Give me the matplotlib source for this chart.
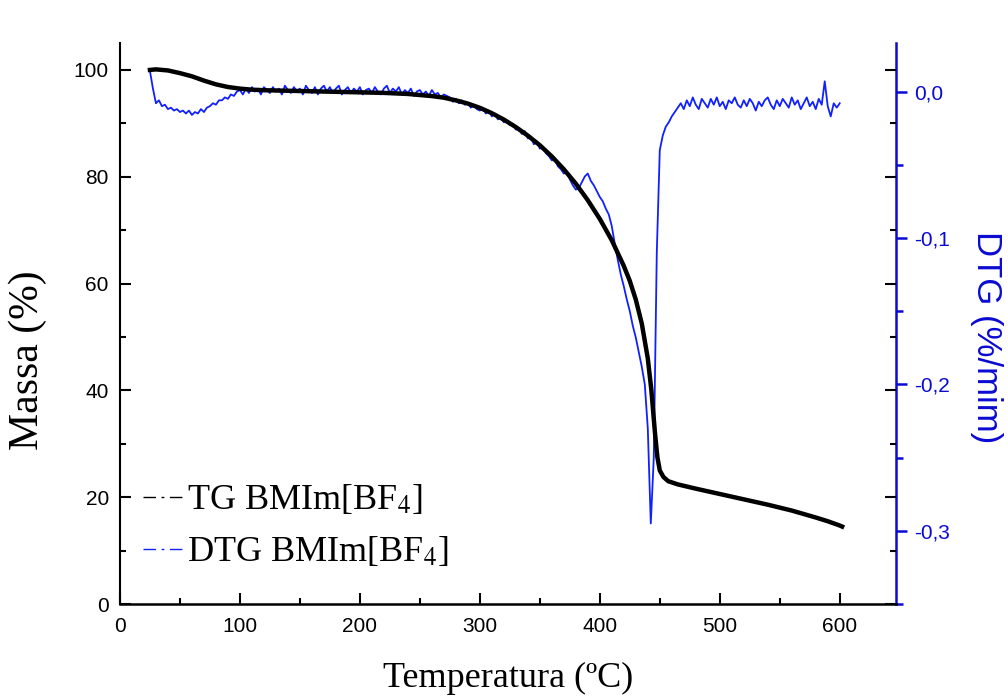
import numpy as np
import matplotlib
matplotlib.use("Agg")
import matplotlib.pyplot as plt
from matplotlib.lines import Line2D
from matplotlib.ticker import MultipleLocator, FuncFormatter

# TG curve (mass %)
tg_temp = [25, 30, 40, 50, 60, 70, 80, 90, 100, 110, 120, 140, 160, 180, 200,
           220, 240, 260, 270, 280, 290, 300, 310, 320, 330, 340, 350, 360,
           370, 380, 390, 400, 410, 420, 425, 430, 435, 440, 443, 446, 448,
           450, 453, 457, 465, 480, 500, 520, 540, 560, 580, 590, 600, 602]
tg_mass = [100.0, 100.1, 99.9, 99.4, 98.8, 98.0, 97.3, 96.8, 96.5, 96.3, 96.2,
           96.1, 96.0, 95.9, 95.8, 95.7, 95.5, 95.1, 94.8, 94.3, 93.7, 92.9,
           91.9, 90.7, 89.3, 87.7, 85.9, 83.8, 81.4, 78.7, 75.6, 72.1, 68.1,
           63.3, 60.5, 57.0, 52.5, 46.0, 40.0, 32.0, 27.5, 25.0, 23.8, 23.0,
           22.4, 21.6, 20.6, 19.6, 18.6, 17.5, 16.2, 15.5, 14.7, 14.5]

# DTG curve (%/min), one reading every 2.5 C from 25 to 600 C
dtg_temp = np.arange(25, 600.1, 2.5)
dtg_vals = [
    0.014, 0.002, -0.008, -0.006, -0.010, -0.009, -0.012, -0.011, -0.013, -0.012,
    -0.014, -0.013, -0.015, -0.013, -0.016, -0.014, -0.015, -0.012, -0.014, -0.011,
    -0.010, -0.008, -0.009, -0.006, -0.006, -0.004, -0.005, -0.002, -0.003, 0.000,
    0.001, -0.002, 0.002, -0.001, 0.003, 0.000, 0.002, -0.002, 0.003, 0.001,
    -0.001, 0.003, 0.000, 0.002, -0.002, 0.004, 0.001, -0.001, 0.003, 0.000,
    0.002, -0.002, 0.004, 0.001, -0.001, 0.003, -0.002, 0.002, 0.004, 0.000,
    0.003, -0.001, 0.002, 0.004, -0.002, 0.001, 0.003, -0.001, 0.002, 0.000,
    0.003, -0.002, 0.001, 0.002, -0.001, 0.003, 0.000, -0.002, 0.002, 0.004,
    -0.001, 0.002, 0.000, 0.003, -0.002, 0.001, -0.001, 0.002, -0.003, 0.000,
    0.001, -0.002, 0.000, -0.003, 0.001, -0.002, -0.001, -0.004, -0.002, -0.003,
    -0.004, -0.007, -0.005, -0.008, -0.006, -0.009, -0.008, -0.011, -0.009, -0.012,
    -0.013, -0.011, -0.015, -0.013, -0.017, -0.015, -0.019, -0.018, -0.021, -0.020,
    -0.023, -0.022, -0.026, -0.025, -0.029, -0.027, -0.032, -0.031, -0.036, -0.034,
    -0.039, -0.038, -0.042, -0.044, -0.047, -0.046, -0.051, -0.053, -0.056, -0.055,
    -0.060, -0.064, -0.067, -0.066, -0.062, -0.058, -0.056, -0.061, -0.064, -0.068,
    -0.072, -0.075, -0.080, -0.084, -0.092, -0.104, -0.115, -0.125, -0.133, -0.142,
    -0.150, -0.160, -0.168, -0.178, -0.188, -0.200, -0.230, -0.295, -0.250, -0.110,
    -0.040, -0.030, -0.024, -0.021, -0.017, -0.014, -0.011, -0.008, -0.012, -0.006,
    -0.010, -0.004, -0.009, -0.012, -0.005, -0.008, -0.011, -0.005, -0.009, -0.004,
    -0.010, -0.007, -0.012, -0.006, -0.008, -0.004, -0.009, -0.011, -0.006, -0.010,
    -0.005, -0.008, -0.013, -0.007, -0.010, -0.006, -0.004, -0.009, -0.012, -0.006,
    -0.010, -0.005, -0.008, -0.011, -0.004, -0.009, -0.006, -0.012, -0.008, -0.004,
    -0.010, -0.007, -0.012, -0.005, -0.009, 0.007, -0.010, -0.017, -0.008, -0.011,
    -0.008,
]

x_ticks = [0, 100, 200, 300, 400, 500, 600]
y_ticks = [0, 20, 40, 60, 80, 100]
dtg_ticks = [0.0, -0.1, -0.2, -0.3]
legend_labels = ['TG BMIm[BF$_4$]', 'DTG BMIm[BF$_4$]']

blue_ax = '#0a0ad2'
blue_line = '#1020ff'
serif = 'Liberation Serif'
sans = 'Liberation Sans'
plt.rcParams['mathtext.fontset'] = 'stix'

fig = plt.figure(figsize=(10.08, 6.97), dpi=100)
ax = fig.add_axes([0.119, 0.1334, 0.77, 0.8046])
ax2 = ax.twinx()

ax2.plot(dtg_temp, dtg_vals, color=blue_line, lw=1.3, zorder=3)
ax.plot(tg_temp, tg_mass, color='black', lw=3.2, zorder=2)
ax.set_zorder(ax2.get_zorder() + 1)
ax.patch.set_visible(False)

ax.set_xlim(0, 647)
ax.set_ylim(0, 105)
ax2.set_ylim(-0.35, 0.033)

ax.set_xticks(x_ticks)
ax.set_yticks(y_ticks)
ax.xaxis.set_minor_locator(MultipleLocator(50))
ax.yaxis.set_minor_locator(MultipleLocator(10))
ax2.set_yticks(dtg_ticks)
ax2.yaxis.set_minor_locator(MultipleLocator(0.05))
ax2.yaxis.set_major_formatter(FuncFormatter(lambda v, p: f'{v:.1f}'.replace('.', ',').replace('-0,0', '0,0')))

for s in ['top', 'right']:
    ax.spines[s].set_visible(False)
for s in ['top', 'left', 'bottom']:
    ax2.spines[s].set_visible(False)
ax.spines['left'].set_linewidth(1.5)
ax.spines['bottom'].set_linewidth(1.8)
ax2.spines['right'].set_color(blue_ax)
ax2.spines['right'].set_linewidth(1.8)

ax.tick_params(which='major', direction='in', length=8, width=1.5, right=True,
               labelsize=15)
ax.tick_params(axis='y', which='major', pad=8)
ax.tick_params(axis='x', which='major', pad=9)
ax.tick_params(which='minor', direction='in', length=4.5, width=1.5, right=True)
ax2.tick_params(which='major', direction='out', length=8, width=1.8,
                color=blue_ax, labelcolor=blue_ax, labelsize=15, pad=5)
ax2.tick_params(which='minor', direction='out', length=5, width=1.8, color=blue_ax)
for lab in ax.get_xticklabels() + ax.get_yticklabels() + ax2.get_yticklabels():
    lab.set_fontfamily(sans)

ax.set_xlabel('Temperatura (ºC)', fontsize=26, family=serif, va='center')
ax.xaxis.set_label_coords(0.5, -0.132)
ax.set_ylabel('Massa (%)', fontsize=30, family=serif, va='center')
ax.yaxis.set_label_coords(-0.119, 0.435)
ax2.set_ylabel('DTG (%/mim)', fontsize=25, family=sans, color=blue_ax,
               rotation=270, va='center')
ax2.yaxis.set_label_coords(1.116, 0.476)

dashdot = (0, (9, 4, 2, 4))
handles = [Line2D([], [], color='black', lw=1.0, ls=dashdot),
           Line2D([], [], color=blue_line, lw=1.0, ls=dashdot)]
ax.legend(handles, legend_labels,
          loc='lower left', bbox_to_anchor=(0.03, 0.062), frameon=False,
          prop={'family': serif, 'size': 26}, handlelength=1.15,
          handletextpad=0.05, labelspacing=0.5, borderaxespad=0, borderpad=0)

fig.savefig('out.png', dpi=100)
